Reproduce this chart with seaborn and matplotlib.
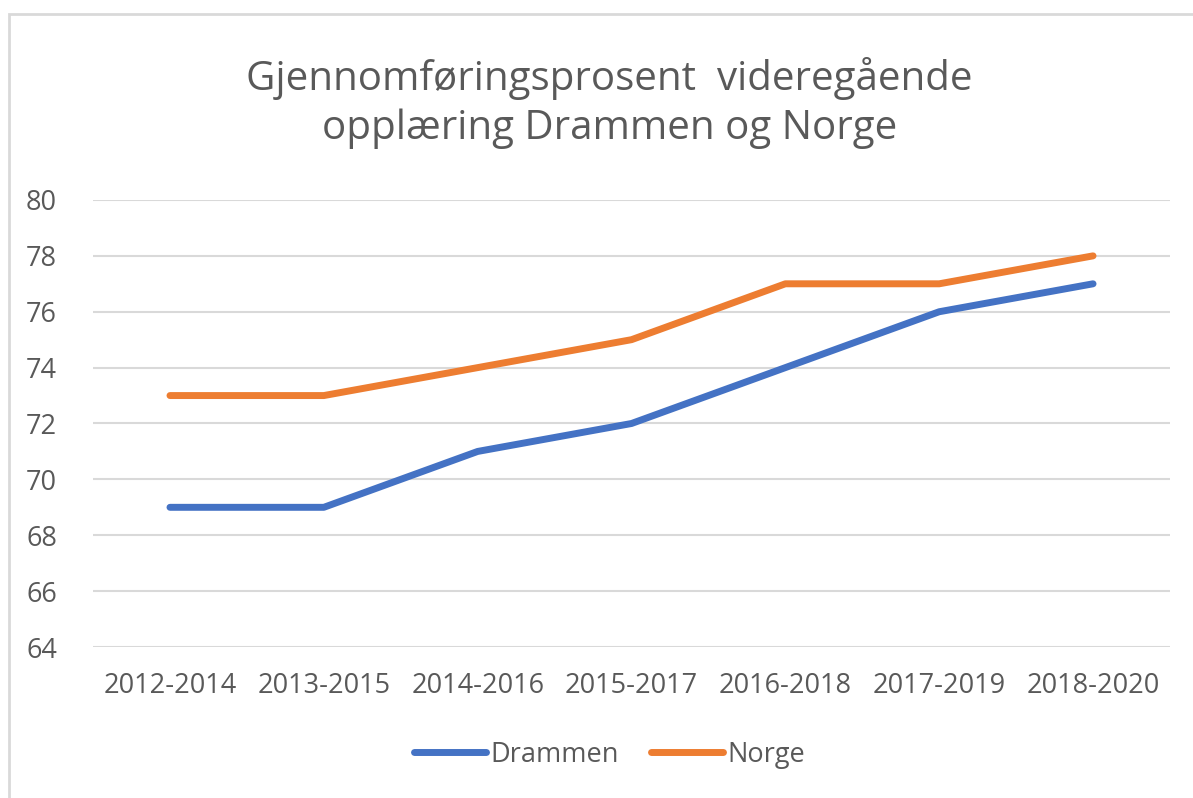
import pandas as pd
import matplotlib.pyplot as plt
import seaborn as sns
from matplotlib.patches import Rectangle
from matplotlib.lines import Line2D

periods = ['2012-2014', '2013-2015', '2014-2016', '2015-2017', '2016-2018', '2017-2019', '2018-2020']
drammen = [69, 69, 71, 72, 74, 76, 77]
norge = [73, 73, 74, 75, 77, 77, 78]

df = pd.DataFrame({
    'periode': periods * 2,
    'prosent': drammen + norge,
    'serie': ['Drammen'] * len(periods) + ['Norge'] * len(periods),
})

sns.set_style('white')
plt.rcParams['font.family'] = ['Open Sans', 'DejaVu Sans']
text_col = '#595959'
colors = {'Drammen': '#4472C4', 'Norge': '#ED7D31'}

fig = plt.figure(figsize=(11.93, 7.98), dpi=100)
ax = fig.add_axes([0.078, 0.1892, 0.9027, 0.5602])

sns.lineplot(data=df, x='periode', y='prosent', hue='serie', sort=False,
             palette=colors, linewidth=5, ax=ax, legend=False)
for ln in ax.lines:
    ln.set_solid_capstyle('round')
    ln.set_solid_joinstyle('round')

ax.set_xlim(-0.5, len(periods) - 0.5)
ax.set_ylim(64, 80)
ax.set_yticks(range(64, 81, 2))
ax.yaxis.grid(True, color='#D9D9D9', linewidth=1.5)
ax.set_axisbelow(True)
for s in ax.spines.values():
    s.set_visible(False)
ax.tick_params(axis='both', length=0, labelsize=19.5, labelcolor=text_col)
ax.tick_params(axis='x', pad=18)
ax.tick_params(axis='y', pad=26)
ax.set_xlabel('')
ax.set_ylabel('')

fig.text(0.511, 0.871, 'Gjennomføringsprosent  videregående\nopplæring Drammen og Norge',
         ha='center', va='center', fontsize=29, color=text_col, linespacing=1.3)

# legend
handles = [Line2D([], [], color=colors[k], lw=5, solid_capstyle='round') for k in colors]
fig.legend(handles, list(colors), loc='center', bbox_to_anchor=(0.511, 0.054),
           ncol=2, frameon=False, fontsize=19.5, labelcolor=text_col,
           handlelength=2.65, handletextpad=0.15, columnspacing=1.2)

fig.add_artist(Rectangle((9 / 1193, -0.05), 1.2, 1 - 14 / 798 + 0.05,
                         transform=fig.transFigure, fill=False,
                         edgecolor='#D9D9D9', linewidth=2))

fig.savefig('out.png', dpi=100)
